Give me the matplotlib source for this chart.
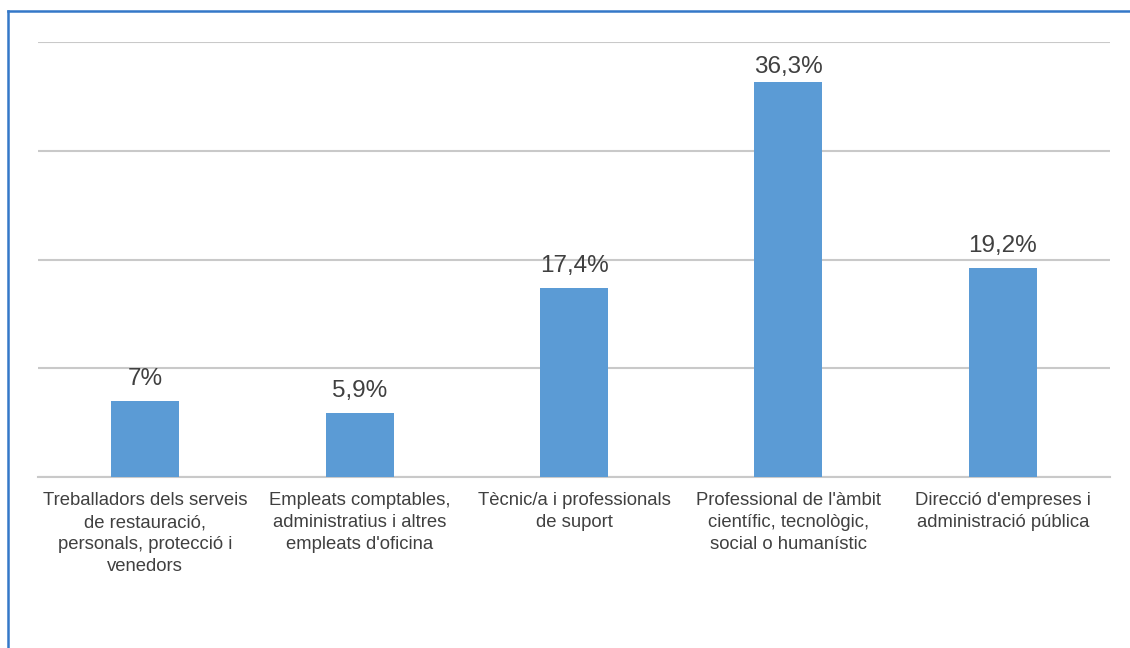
import matplotlib
matplotlib.use("Agg")
import matplotlib.pyplot as plt
from matplotlib.lines import Line2D

categories = [
    "Treballadors dels serveis\nde restauració,\npersonals, protecció i\nvenedors",
    "Empleats comptables,\nadministratius i altres\nempleats d'oficina",
    "Tècnic/a i professionals\nde suport",
    "Professional de l'àmbit\ncientífic, tecnològic,\nsocial o humanístic",
    "Direcció d'empreses i\nadministració pública",
]
values = [7.0, 5.9, 17.4, 36.3, 19.2]
value_labels = ["7%", "5,9%", "17,4%", "36,3%", "19,2%"]
yticks = [0, 10, 20, 30, 40]

plt.rcParams['font.family'] = ['Liberation Sans', 'DejaVu Sans']

W, H = 1130, 648
fig = plt.figure(figsize=(W / 100, H / 100), dpi=100)
ax = fig.add_axes([38 / W, (H - 477) / H, (1110 - 38) / W, 435 / H])

x = list(range(len(categories)))
bars = ax.bar(x, values, width=0.317, color="#5b9bd5", zorder=3)
ax.set_xlim(-0.5, len(categories) - 0.5)
ax.set_ylim(0, 40)
ax.set_yticks(yticks)
ax.yaxis.grid(True, color="#c9c9c9", linewidth=1.5, zorder=0)
ax.tick_params(axis="y", length=0, labelleft=False)
ax.tick_params(axis="x", length=0, pad=11)
ax.set_xticks(x)
ax.set_xticklabels(categories, fontsize=13.3, color="#404040", linespacing=1.38, va="top")
for s in ["top", "right", "left"]:
    ax.spines[s].set_visible(False)
ax.spines["bottom"].set_color("#c9c9c9")
ax.spines["bottom"].set_linewidth(1.5)

fig.canvas.draw()
max_top_disp = H - 56  # label cap top may not rise above this (display px)
cap_px = 17
for b, lab in zip(bars, value_labels):
    ytop_disp = ax.transData.transform((0, b.get_height()))[1]
    gap_px = min(16, max_top_disp - cap_px - ytop_disp)
    ax.annotate(lab, (b.get_x() + b.get_width() / 2, b.get_height()),
                xytext=(0, gap_px * 0.72), textcoords="offset points",
                ha="center", va="baseline", fontsize=17.5, color="#404040")

border_color = "#3478c8"
fig.add_artist(Line2D([7.5 / W, 1], [1 - 10.5 / H, 1 - 10.5 / H], color=border_color, linewidth=1.8))
fig.add_artist(Line2D([7.5 / W, 7.5 / W], [0, 1 - 10.5 / H], color=border_color, linewidth=1.8))

fig.savefig("out.png", dpi=100, facecolor="white")
